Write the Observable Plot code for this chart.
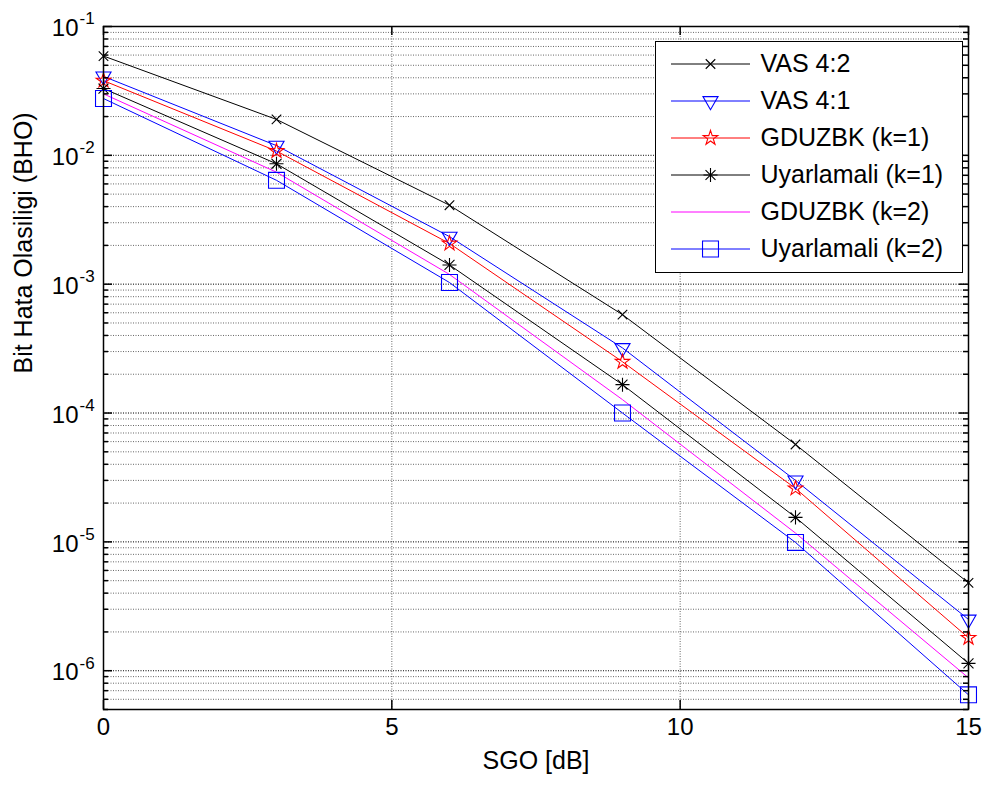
<!DOCTYPE html>
<html>
<head>
<meta charset="utf-8">
<script src="https://cdn.jsdelivr.net/npm/d3@7"></script>
<script src="https://cdn.jsdelivr.net/npm/@observablehq/plot@0.6"></script>
<style>
  html, body { margin: 0; padding: 0; background: #fff; }
  #wrap { position: relative; width: 986px; height: 787px; font-family: "Liberation Sans", Arial, Helvetica, sans-serif; }
  #legend { position: absolute; left: 655px; top: 41px; width: 308px; height: 232px; box-sizing: border-box; border: 1px solid #000; background: #fff; }
  #legend svg, #chart svg { display: block; }
</style>
</head>
<body>
<div id="wrap">
  <div id="chart"></div>
  <div id="legend"></div>
</div>
<script>
// ---- data ----
const sgo = [0, 3, 6, 9, 12, 15];
const vas42   = [0.059, 0.019, 0.0041, 5.8e-4, 5.7e-5, 4.8e-6];
const vas41   = [0.041, 0.0119, 0.00234, 3.2e-4, 3.0e-5, 2.5e-6];
const gduzbk1 = [0.038, 0.0108, 0.00207, 2.5e-4, 2.6e-5, 1.8e-6];
const uyar1   = [0.033, 0.0086, 0.00141, 1.66e-4, 1.55e-5, 1.14e-6];
const gduzbk2 = [0.030, 0.0074, 0.00119, 1.27e-4, 1.17e-5, 8.8e-7];
const uyar2   = [0.0276, 0.0064, 0.00103, 1.0e-4, 9.9e-6, 6.5e-7];
const seriesNames = ["VAS 4:2", "VAS 4:1", "GDUZBK (k=1)", "Uyarlamali (k=1)", "GDUZBK (k=2)", "Uyarlamali (k=2)"];
const xTicks = [0, 5, 10, 15];
const xGrid = [5, 10];
const yDecades = [1e-6, 1e-5, 1e-4, 1e-3, 1e-2, 1e-1];
const yExponents = ["-6", "-5", "-4", "-3", "-2", "-1"];
const minorMultipliers = [2, 3, 4, 5, 6, 7, 8, 9];
const yDomain = [5e-7, 0.1];
const xLabel = "SGO [dB]";
const yLabel = "Bit Hata Olasiligi (BHO)";

// ---- styles ----
const seriesValues = [vas42, vas41, gduzbk1, uyar1, gduzbk2, uyar2];
const seriesStyle = [
  {color: "#000000", marker: "x"},
  {color: "#0000ff", marker: "tri"},
  {color: "#ff0000", marker: "star"},
  {color: "#000000", marker: "ast"},
  {color: "#ff00ff", marker: null},
  {color: "#0000ff", marker: "sq"}
];

const rows = seriesNames.flatMap((name, i) => sgo.map((x, j) => ({name, x, y: seriesValues[i][j]})));
const minorTicks = [];
for (const d of [1e-7, ...yDecades.slice(0, -1)]) for (const m of minorMultipliers) {
  const v = m * d;
  if (v >= yDomain[0] * 0.999 && v < yDomain[1]) minorTicks.push(v);
}
const allYTicks = [...minorTicks, ...yDecades];

function markerMarks(data, kind, color, opts) {
  const base = {...opts, fill: "none", stroke: color, strokeWidth: 1.1};
  switch (kind) {
    case "x":   return [Plot.dot(data, {...base, symbol: "times", r: 4.4})];
    case "tri": return [Plot.dot(data, {...base, symbol: "triangle", r: 5.6, rotate: 180})];
    case "star":return [Plot.dot(data, {...base, symbol: "star", r: 4.6})];
    case "ast": return [Plot.dot(data, {...base, symbol: "plus", r: 4.6}), Plot.dot(data, {...base, symbol: "times", r: 4.6})];
    case "sq":  return [Plot.dot(data, {...base, symbol: "square", r: 9})];
    default: return [];
  }
}

const W = 986, H = 787, mL = 103, mR = 18, mT = 26, mB = 78;
const frameW = W - mL - mR, frameH = H - mT - mB;
const font = "Liberation Sans, Arial, Helvetica, sans-serif";

const gridStyle = {stroke: "#000", strokeOpacity: 0.6, strokeDasharray: "1,1.5"};
const marks = [
  Plot.ruleY(allYTicks, {y: d => d, ...gridStyle}),
  Plot.ruleY(yDecades, {y: d => d, ...gridStyle}),
  Plot.ruleX(xGrid, {x: d => d, ...gridStyle})
];
seriesNames.forEach((name, i) => {
  const data = rows.filter(d => d.name === name);
  marks.push(Plot.line(data, {x: "x", y: "y", stroke: seriesStyle[i].color, strokeWidth: 1}));
});
seriesNames.forEach((name, i) => {
  const data = rows.filter(d => d.name === name);
  marks.push(...markerMarks(data, seriesStyle[i].marker, seriesStyle[i].color, {x: "x", y: "y"}));
});
// inward ticks
marks.push(
  Plot.tickY(yDecades, {y: d => d, stroke: "#000", strokeWidth: 1.5, insetRight: frameW - 9}),
  Plot.tickY(minorTicks, {y: d => d, stroke: "#000", strokeWidth: 1.5, insetRight: frameW - 5}),
  Plot.tickY(yDecades, {y: d => d, stroke: "#000", strokeWidth: 1.5, insetLeft: frameW - 9}),
  Plot.tickY(minorTicks, {y: d => d, stroke: "#000", strokeWidth: 1.5, insetLeft: frameW - 5}),
  Plot.tickX(xTicks, {x: d => d, stroke: "#000", strokeWidth: 1.5, insetTop: frameH - 9}),
  Plot.tickX(xTicks, {x: d => d, stroke: "#000", strokeWidth: 1.5, insetBottom: frameH - 9}),
  Plot.frame({stroke: "#000", strokeWidth: 1.5}),
  // tick labels
  Plot.text(xTicks, {x: d => d, frameAnchor: "bottom", dy: 25, text: d => String(d), fontSize: 24, fill: "#000"}),
  Plot.text(yDecades, {y: d => d, frameAnchor: "left", dx: -25, dy: 2, textAnchor: "end", text: () => "10", fontSize: 24, fill: "#000"}),
  Plot.text(yDecades, {y: d => d, frameAnchor: "left", dx: -24, dy: -7.5, textAnchor: "start", text: (d, i) => yExponents[i], fontSize: 17, fill: "#000"}),
  // axis labels
  Plot.text([xLabel], {frameAnchor: "bottom", dy: 59, text: d => d, fontSize: 25, fill: "#000"}),
  Plot.text([yLabel], {frameAnchor: "left", dx: -79.5, dy: 5.5, rotate: -90, text: d => d, fontSize: 25, fill: "#000"})
);

const chart = Plot.plot({
  width: W, height: H,
  marginLeft: mL, marginRight: mR, marginTop: mT, marginBottom: mB,
  x: {domain: [0, 15], axis: null},
  y: {type: "log", domain: yDomain, axis: null},
  style: {fontFamily: font, background: "#fff", overflow: "visible"},
  marks
});
document.getElementById("chart").appendChild(chart);

// ---- legend ----
const LW = 306, LH = 230;
const legendMarks = [];
seriesNames.forEach((name, i) => {
  const st = seriesStyle[i];
  legendMarks.push(Plot.ruleY([name], {y: d => d, x1: 15, x2: 94, stroke: st.color, strokeWidth: 1}));
  legendMarks.push(...markerMarks([name], st.marker, st.color, {x: () => 54, y: d => d}));
});
legendMarks.push(Plot.text(seriesNames, {x: () => 104, y: d => d, text: d => d, textAnchor: "start", fontSize: 25, fill: "#000"}));
const legend = Plot.plot({
  width: LW, height: LH,
  margin: 0,
  x: {domain: [0, LW], range: [0, LW], axis: null},
  y: {type: "band", domain: seriesNames, range: [1, 227], padding: 0, axis: null},
  style: {fontFamily: font, background: "#fff"},
  marks: legendMarks
});
document.getElementById("legend").appendChild(legend);
</script>
</body>
</html>
